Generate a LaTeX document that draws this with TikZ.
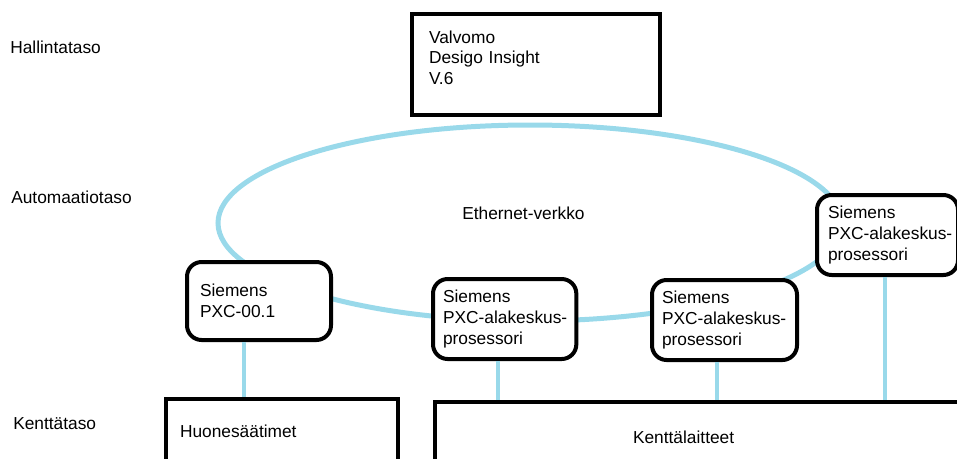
\documentclass[tikz,border=0pt]{standalone}
\usepackage{fontspec}
\setmainfont{Liberation Sans}
\usepackage{xcolor}
\usepackage{tikz}
\usetikzlibrary{positioning}
\definecolor{netblue}{RGB}{153, 217, 234}

\begin{document}
\begin{tikzpicture}[
    x=0.75pt, y=-0.75pt,
    font=\fontsize{13pt}{15.4pt}\selectfont,
    tier/.style={anchor=base west, inner sep=0pt},
    ctrl/.style={rectangle, rounded corners=11pt, draw, line width=3pt, fill=white, anchor=north west, align=left, inner xsep=7.5pt, text width=92.5pt, minimum height=60pt},
    field/.style={rectangle, draw, line width=3pt, fill=white, anchor=north west, align=left},
    net/.style={netblue, line width=3.75pt},
    link/.style={netblue, line width=3.5pt}
]
    \useasboundingbox (0,0) rectangle (957,458);
    \clip (0,0) rectangle (957,458);

    % Level labels (left)
    \node[tier] (hall) at (10,53) {Hallintataso};
    \node[tier] (auto) at (11,203) {Automaatiotaso};
    \node[tier] (kent) at (13,429) {Kenttätaso};

    % Ethernet ring
    \draw[net] (530,223) ellipse [x radius=312, y radius=98];
    \node[tier] (eth) at (462,219) {Ethernet-verkko};

    % Management level
    \node[field, inner xsep=12.75pt, text width=160.5pt, minimum height=75.75pt, text depth=41.6pt] (valvomo) at (410,12) {Valvomo\\Desigo Insight\\V.6};

    % Controllers on the ring
    \node[ctrl, inner xsep=9.75pt, text width=88.5pt, minimum height=58.5pt] (pxc) at (185,260) {Siemens\\PXC-00.1};
    \node[ctrl] (alak1) at (431,277) {Siemens\\\mbox{PXC-alakeskus-}\\prosessori};
    \node[ctrl, text width=93.75pt] (alak2) at (650,278) {Siemens\\\mbox{PXC-alakeskus-}\\prosessori};
    \node[ctrl, inner xsep=8.25pt, text width=89.25pt] (alak3) at (815,193) {Siemens\\\mbox{PXC-alakeskus-}\\prosessori};

    % Field level
    \node[field, inner xsep=10.5pt, text width=153pt, minimum height=48pt] (huone) at (164,397) {Huonesäätimet};
    \node[field, inner xsep=148.5pt, text width=110.25pt, minimum height=52.5pt] (kentta) at (433,400) {Kenttälaitteet};

    % Field buses
    \draw[link] ([xshift=-11.25pt]pxc.south) -- ([xshift=-11.25pt]pxc.south |- huone.north);
    \draw[link] ([xshift=-4.9pt]alak1.south) -- ([xshift=-4.9pt]alak1.south |- kentta.north);
    \draw[link] ([xshift=-5.6pt]alak2.south) -- ([xshift=-5.6pt]alak2.south |- kentta.north);
    \draw[link] ([xshift=-2pt]alak3.south) -- ([xshift=-2pt]alak3.south |- kentta.north);
\end{tikzpicture}
\end{document}
